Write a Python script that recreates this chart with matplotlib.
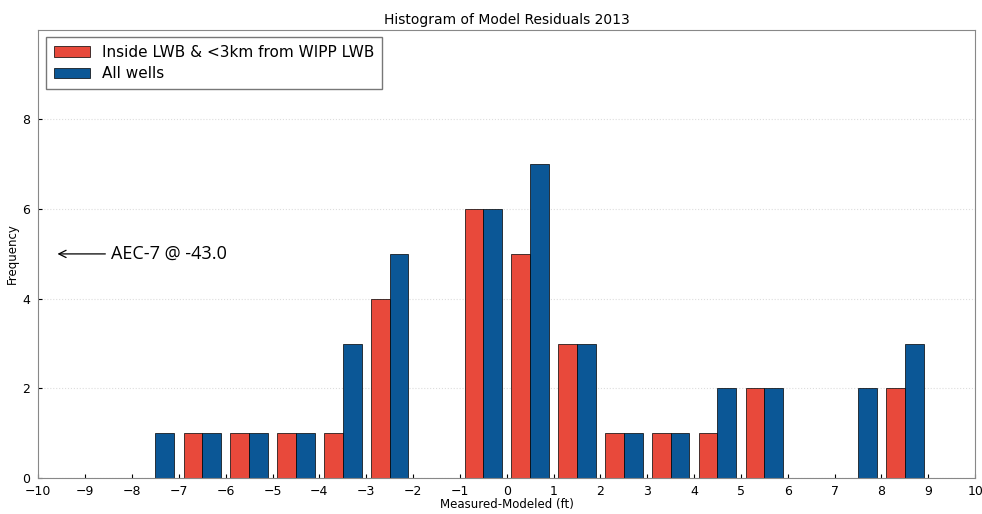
import numpy as np
from matplotlib import pyplot as plt

# bin edges -10 .. 10, width 1
edges = np.arange(-10, 11, 1)
# counts per bin (left edge -10 ... 9)
inside_lwb = [0, 0, 0, 1, 1, 1, 1, 4, 0, 6, 5, 3, 1, 1, 1, 2, 0, 0, 2, 0]
all_wells = [0, 0, 1, 1, 1, 1, 3, 5, 0, 6, 7, 3, 1, 1, 2, 2, 0, 2, 3, 0]
labels = ["Inside LWB & <3km from WIPP LWB", "All wells"]
colors = ["#e8493b", "#0b5796"]

centers = edges[:-1] + 0.5

fig = plt.figure(figsize=(9.82, 5.14), dpi=100)
ax = fig.add_axes([0.039, 0.07, 0.954, 0.872])

ax.hist([centers, centers], bins=edges, weights=[inside_lwb, all_wells],
        color=colors, label=labels, edgecolor="black", linewidth=0.5)

ax.set_xlim(-10, 10)
ax.set_ylim(0, 10)
ax.set_xticks(edges)
ax.set_yticks([0, 2, 4, 6, 8])
ax.tick_params(labelsize=9, length=3, direction="in")
ax.tick_params(axis="y", pad=6)
ax.tick_params(axis="x", pad=5)
ax.grid(axis="y", color="#dddddd", linestyle=":", linewidth=0.8)
ax.set_axisbelow(True)
for s in ax.spines.values():
    s.set_color("#888888")

ax.set_title("Histogram of Model Residuals 2013", fontsize=10, pad=4)
ax.set_xlabel("Measured-Modeled (ft)", fontsize=8.5, labelpad=0)
ax.set_ylabel("Frequency", fontsize=8.5, labelpad=2)

# outlier note
ax.annotate("AEC-7 @ -43.0", xy=(-9.65, 5), xytext=(-8.45, 5),
            fontsize=13, va="center", family="Open Sans",
            arrowprops=dict(arrowstyle="->", color="black", lw=0.9))

ax.legend(loc="upper left", fontsize=11, handlelength=2.4,
          fancybox=False, edgecolor="#555555", borderpad=0.5,
          labelspacing=0.4)

fig.savefig("out.png", dpi=100)
